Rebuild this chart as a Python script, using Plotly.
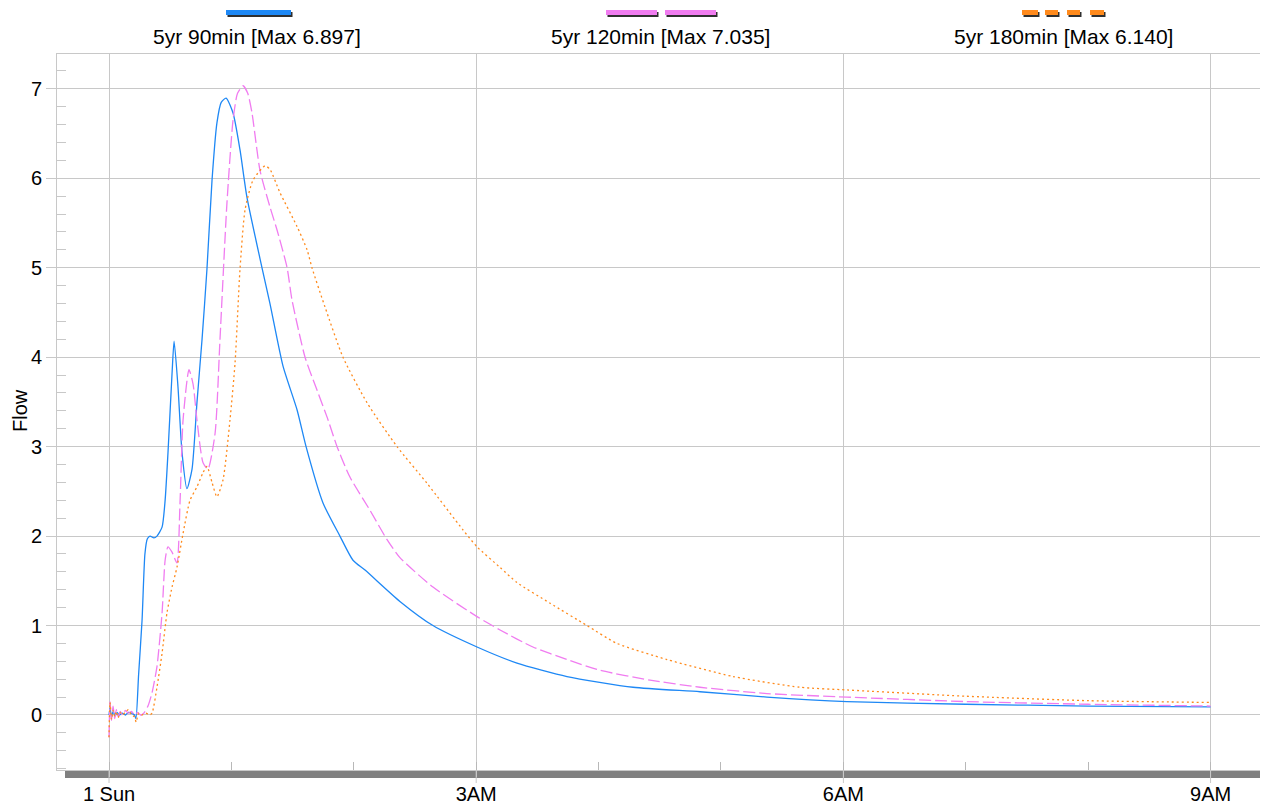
import plotly.graph_objects as go

# ---------------- data (time in minutes from 1 Sun 00:00, flow) ----------------
t_90 = [0, 0.5, 1.2, 2, 3, 4, 5, 6.5, 8, 9.5, 11, 12.5, 13.2, 14.5, 16.2, 17.6, 18.8, 20.1, 22, 23.5,
        26.0, 27.5, 28.9, 30.9, 31.9, 33.8, 35.8, 38.2, 40.7, 43.1, 45.6, 48.0, 50.5, 52.9, 55, 57.4,
        60.8, 64.2, 67.6, 75.0, 78.9, 85.3, 92.2, 96.6, 104.9, 113.2, 119.6, 125.5, 142.6, 158.8,
        180.4, 200, 224.5, 256.9, 289.7, 322.5, 361.8, 420, 480, 540]
q_90 = [0.0, 0.08, -0.02, 0.04, -0.01, 0.03, 0.0, 0.02, 0.0, 0.03, 0.02, 0.0, -0.04, 0.45, 1.06, 1.8,
        1.97, 2.0, 1.98, 2.0, 2.1, 2.4, 2.93, 3.82, 4.18, 3.67, 2.93, 2.53, 2.75, 3.49, 4.2, 4.98, 5.98,
        6.62, 6.85, 6.897, 6.73, 6.32, 5.79, 5.0, 4.6, 3.9, 3.41, 3.0, 2.37, 2.0, 1.73, 1.62, 1.27, 1.0,
        0.76, 0.58, 0.43, 0.31, 0.26, 0.2, 0.15, 0.12, 0.1, 0.09]

t_120 = [0, 0.5, 1.2, 2, 2.8, 3.6, 4.5, 5.5, 6.5, 8, 9.5, 11, 12.5, 14, 15.5, 17, 19.1, 21.1, 23.5,
         26.0, 27.5, 28.9, 30.9, 33.3, 34.8, 36.3, 39.2, 41.2, 43.1, 46.1, 48.5, 52.0, 54.4, 57.8,
         60.8, 63, 65.7, 68, 70.1, 74.0, 78.9, 82.4, 87.3, 89.7, 96.1, 102, 106.9, 111.8, 118.1,
         127.9, 136.3, 142.6, 158.8, 180.4, 191.7, 207.8, 224.5, 240.7, 265.2, 289.7, 322.5,
         361.8, 420, 480, 540]
q_120 = [-0.25, 0.15, -0.06, 0.1, -0.04, 0.06, -0.02, 0.04, 0.0, 0.05, 0.02, 0.04, 0.0, 0.03, 0.0,
         0.02, 0.1, 0.25, 0.54, 1.14, 1.73, 1.88, 1.82, 1.7, 2.37, 3.3, 3.86, 3.7, 3.3, 2.82, 2.75,
         3.15, 4.2, 5.72, 6.65, 6.95, 7.035, 6.95, 6.73, 6.09, 5.68, 5.42, 5.0, 4.64, 4.0, 3.63, 3.33,
         3.0, 2.66, 2.29, 1.96, 1.76, 1.43, 1.1, 0.95, 0.76, 0.62, 0.5, 0.39, 0.31, 0.24, 0.2, 0.15,
         0.12, 0.1]

t_180 = [0, 0.5, 1.2, 2, 2.8, 3.6, 4.5, 5.5, 6.5, 8, 9.5, 11, 12.5, 13.3, 14.5, 16, 18, 20, 21.1,
         23.5, 26.0, 28.4, 30.9, 33.3, 36.3, 39.7, 43.1, 46.1, 48.0, 50.5, 52.9, 55.9, 59.3, 61.8,
         64.2, 66.7, 70.6, 76.5, 78.9, 83.8, 92.2, 97.1, 99.5, 105.9, 114.7, 126.5, 141.2, 155.9,
         173.5, 180.4, 191.7, 200, 216.2, 234.3, 249, 273.5, 305.9, 338.7, 361.8, 420, 480, 540]
q_180 = [-0.25, 0.14, -0.05, 0.05, -0.02, 0.04, -0.03, 0.03, 0.0, 0.03, 0.06, 0.0, -0.02, -0.08,
         0.02, 0.0, 0.02, 0.0, 0.02, 0.31, 0.69, 1.14, 1.43, 1.65, 2.03, 2.4, 2.55, 2.71, 2.78, 2.6,
         2.44, 2.63, 3.3, 3.94, 4.98, 5.65, 5.98, 6.14, 6.1, 5.84, 5.46, 5.2, 5.0, 4.56, 4.0, 3.49,
         3.0, 2.59, 2.07, 1.88, 1.65, 1.48, 1.25, 1.0, 0.8, 0.62, 0.43, 0.31, 0.28, 0.21, 0.16, 0.14]

series_names = ["5yr 90min", "5yr 120min", "5yr 180min"]
tick_vals = [0, 180, 360, 540]
tick_text = ["1 Sun", "3AM", "6AM", "9AM"]
y_ticks = [0, 1, 2, 3, 4, 5, 6, 7]
y_title = "Flow"

# ---------------- styling ----------------
FONT = "Arial, Liberation Sans, sans-serif"
BLUE = "#1E88F5"
PINK = "#F07CF0"
ORANGE = "#FF8A1C"
GRID = "#C8C8C8"

# page offset (default body margin of the html page)
OFF = 8
PAGE_W, PAGE_H = 1268, 807
# plot area in page pixels
L, R, T, B = 57, 1263, 54, 770
W, H = R - L, B - T


def fx(px):
    return (px - L) / W


def fy(py):
    return (B - py) / H


fig = go.Figure()
fig.add_trace(go.Scatter(x=t_90, y=q_90, mode="lines", name=series_names[0],
                         line=dict(color=BLUE, width=1.3, shape="spline", smoothing=0.6)))
fig.add_trace(go.Scatter(x=t_120, y=q_120, mode="lines", name=series_names[1],
                         line=dict(color=PINK, width=1.3, dash="12px,4px", shape="spline", smoothing=0.6)))
fig.add_trace(go.Scatter(x=t_180, y=q_180, mode="lines", name=series_names[2],
                         line=dict(color=ORANGE, width=1.3, dash="2px,3px", shape="spline", smoothing=0.6)))

shapes = []
# 3D shadow bars (bottom and right)
shapes.append(dict(type="rect", xref="paper", yref="paper", x0=fx(65), x1=fx(1268),
                   y0=fy(778), y1=fy(771), fillcolor="#808080", line=dict(width=0), layer="below"))
shapes.append(dict(type="rect", xref="paper", yref="paper", x0=fx(1264), x1=fx(1268),
                   y0=fy(778), y1=fy(62), fillcolor="#808080", line=dict(width=0), layer="below"))
# long ticks at the labelled hours, crossing the shadow bar
for tv in tick_vals:
    shapes.append(dict(type="line", xref="x", yref="paper", x0=tv, x1=tv, y0=fy(770), y1=fy(783),
                       line=dict(color=GRID, width=1), layer="above"))


def legend_seg(x0, x1, color):
    shapes.append(dict(type="line", xref="paper", yref="paper", x0=fx(x0 + 1.5), x1=fx(x1 + 1.5),
                       y0=fy(14.5), y1=fy(14.5), line=dict(color="#303030", width=5)))
    shapes.append(dict(type="line", xref="paper", yref="paper", x0=fx(x0), x1=fx(x1),
                       y0=fy(12.5), y1=fy(12.5), line=dict(color=color, width=5)))


legend_seg(226, 291, BLUE)
legend_seg(606, 657, PINK)
legend_seg(665, 716, PINK)
for a, b in [(1022, 1038), (1045, 1058), (1067, 1080), (1090, 1104)]:
    legend_seg(a, b, ORANGE)

annotations = []
centers = [257, 660, 1063]
maxes = [max(q_90), max(q_120), max(q_180)]
for c, n, m in zip(centers, series_names, maxes):
    annotations.append(dict(xref="paper", yref="paper", x=fx(c), y=fy(36), xanchor="center",
                            yanchor="middle", showarrow=False, text=f"{n} [Max {m:.3f}]",
                            font=dict(family=FONT, size=21, color="#000000")))
annotations.append(dict(xref="paper", yref="paper", x=fx(OFF), y=fy(411), xanchor="left",
                        yanchor="middle", showarrow=False, text=y_title, textangle=-90,
                        borderpad=0, font=dict(family=FONT, size=20, color="#000000")))

fig.update_layout(
    width=PAGE_W - OFF, height=PAGE_H - OFF,
    margin=dict(l=L - OFF, r=PAGE_W - R, t=T - OFF, b=PAGE_H - B, pad=0, autoexpand=False),
    paper_bgcolor="white", plot_bgcolor="white",
    showlegend=False,
    shapes=shapes, annotations=annotations,
    font=dict(family=FONT, size=20, color="#000000"),
)
fig.update_xaxes(
    range=[-25.5, 565.7], tickmode="array", tickvals=tick_vals, ticktext=tick_text,
    showgrid=True, gridcolor=GRID, gridwidth=1, zeroline=False, automargin=False,
    ticks="outside", ticklen=6, tickcolor=GRID, tickwidth=1,
    showline=True, linecolor=GRID, linewidth=1, mirror=True,
    tickfont=dict(family=FONT, size=20, color="#000000"),
    minor=dict(tick0=0, dtick=60, ticks="inside", ticklen=8, tickcolor="#B8B8B8", showgrid=False),
)
fig.update_yaxes(
    range=[-0.615, 7.39], tickmode="array", tickvals=y_ticks,
    showgrid=True, gridcolor=GRID, gridwidth=1, zeroline=False, automargin=False,
    ticks="outside", ticklen=10, tickcolor=GRID, tickwidth=1,
    showline=True, linecolor=GRID, linewidth=1, mirror=True,
    tickfont=dict(family=FONT, size=20, color="#000000"),
    minor=dict(tick0=0, dtick=0.2, ticks="inside", ticklen=9, tickcolor=GRID, showgrid=False),
)

fig.write_html("out.html")
